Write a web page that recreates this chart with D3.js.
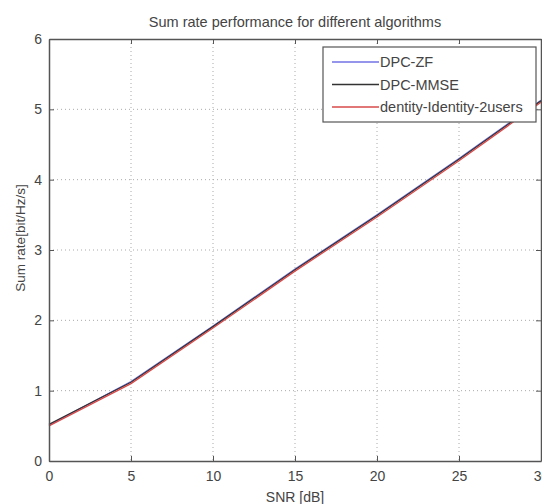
<!DOCTYPE html>
<html>
<head>
<meta charset="utf-8">
<script src="https://cdn.jsdelivr.net/npm/d3@7"></script>
<style>
  body { margin: 0; background: #fff; }
  svg { display: block; font-family: "Liberation Sans", Arial, sans-serif; }
</style>
</head>
<body>
<svg id="chart" width="542" height="504"></svg>
<script>
// data
const snr = [0, 5, 10, 15, 20, 25, 30];
const rate_zf = [0.51, 1.13, 1.92, 2.73, 3.50, 4.30, 5.13];
const rate_mmse = [0.52, 1.12, 1.91, 2.72, 3.49, 4.29, 5.12];
const rate_identity = [0.50, 1.10, 1.89, 2.70, 3.47, 4.27, 5.10];
const x_ticks = [0, 5, 10, 15, 20, 25, 30];
const y_ticks = [0, 1, 2, 3, 4, 5, 6];
const series_names = ['DPC-ZF', 'DPC-MMSE', 'dentity-Identity-2users'];
const series_colors = ['#7272e6', '#333333', '#d84a4a'];

const series = [rate_zf, rate_mmse, rate_identity].map((v, i) => ({
  name: series_names[i],
  color: series_colors[i],
  values: snr.map((s, j) => ({x: s, y: v[j]}))
}));

// layout
const mar = {left: 49, right: 541, top: 39, bottom: 461};
const svg = d3.select('#chart');

const x_scale = d3.scaleLinear().domain([0, 30]).range([mar.left, mar.right]);
const y_scale = d3.scaleLinear().domain([0, 6]).range([mar.bottom, mar.top]);

const axis_col = '#555';
const text_col = '#444';

// grid
const grid = svg.append('g').attr('class', 'grid');
grid.selectAll('line.vx')
  .data(x_ticks.slice(1, -1))
  .join('line')
  .attr('x1', d => x_scale(d)).attr('x2', d => x_scale(d))
  .attr('y1', mar.top).attr('y2', mar.bottom)
  .attr('stroke', '#aaa').attr('stroke-width', 1)
  .attr('stroke-dasharray', '1,3');
grid.selectAll('line.hy')
  .data(y_ticks.slice(1, -1))
  .join('line')
  .attr('x1', mar.left).attr('x2', mar.right)
  .attr('y1', d => y_scale(d)).attr('y2', d => y_scale(d))
  .attr('stroke', '#aaa').attr('stroke-width', 1)
  .attr('stroke-dasharray', '1,3');

// lines
const line_gen = d3.line().x(d => x_scale(d.x)).y(d => y_scale(d.y));
svg.append('g').attr('class', 'layer-lines')
  .selectAll('path')
  .data(series)
  .join('path')
  .attr('fill', 'none')
  .attr('stroke', d => d.color)
  .attr('stroke-width', 1.3)
  .attr('d', d => line_gen(d.values));

// axes (ticks inside, like matlab)
const ax_bottom = svg.append('g')
  .attr('transform', `translate(0, ${mar.bottom})`)
  .call(d3.axisBottom(x_scale).tickValues(x_ticks).tickFormat(d3.format('d'))
    .tickSizeInner(-5).tickSizeOuter(0).tickPadding(10));
const ax_left = svg.append('g')
  .attr('transform', `translate(${mar.left}, 0)`)
  .call(d3.axisLeft(y_scale).tickValues(y_ticks).tickFormat(d3.format('d'))
    .tickSizeInner(-5).tickSizeOuter(0).tickPadding(7));
const ax_top = svg.append('g')
  .attr('transform', `translate(0, ${mar.top})`)
  .call(d3.axisTop(x_scale).tickValues(x_ticks).tickSizeInner(-5).tickSizeOuter(0).tickFormat(''));
const ax_right = svg.append('g')
  .attr('transform', `translate(${mar.right}, 0)`)
  .call(d3.axisRight(y_scale).tickValues(y_ticks).tickSizeInner(-5).tickSizeOuter(0).tickFormat(''));

[ax_bottom, ax_left, ax_top, ax_right].forEach(a => {
  a.select('.domain').attr('stroke', axis_col).attr('stroke-width', 1.5);
  a.selectAll('.tick line').attr('stroke', axis_col);
  a.selectAll('.tick text')
    .attr('fill', text_col)
    .style('font-size', '14px')
    .style('font-family', '"Liberation Sans", Arial, sans-serif');
});

// title and axis labels
svg.append('text')
  .attr('x', (mar.left + mar.right) / 2).attr('y', 27)
  .attr('text-anchor', 'middle')
  .attr('fill', text_col)
  .style('font-size', '14.5px')
  .text('Sum rate performance for different algorithms');

svg.append('text')
  .attr('x', (mar.left + mar.right) / 2).attr('y', 502)
  .attr('text-anchor', 'middle')
  .attr('fill', text_col)
  .style('font-size', '14px')
  .text('SNR [dB]');

svg.append('text')
  .attr('transform', 'translate(25, 238) rotate(-90)')
  .attr('text-anchor', 'middle')
  .attr('fill', text_col)
  .style('font-size', '13.5px')
  .text('Sum rate[bit/Hz/s]');

// legend
const leg = svg.append('g').attr('class', 'legend');
leg.append('rect')
  .attr('x', 323).attr('y', 47)
  .attr('width', 213).attr('height', 75)
  .attr('fill', '#fff')
  .attr('stroke', axis_col).attr('stroke-width', 1.2);

const leg_items = leg.selectAll('g.item')
  .data(series)
  .join('g')
  .attr('class', 'item')
  .attr('transform', (d, i) => `translate(0, ${62 + i * 22.5})`);

leg_items.append('line')
  .attr('x1', 332).attr('x2', 379)
  .attr('y1', 0).attr('y2', 0)
  .attr('stroke', d => d.color)
  .attr('stroke-width', 1.3);

leg_items.append('text')
  .attr('x', 380).attr('y', 5)
  .attr('fill', text_col)
  .style('font-size', '14.5px')
  .text(d => d.name);
</script>
</body>
</html>
